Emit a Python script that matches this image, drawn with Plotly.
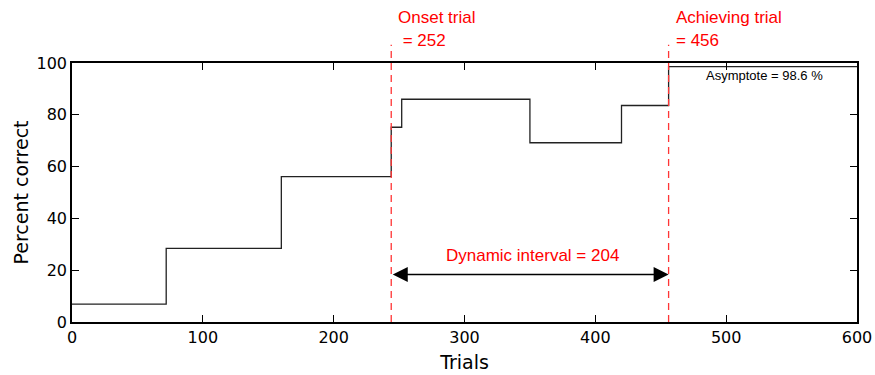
import plotly.graph_objects as go

# Step data: trial at which each level starts, percent correct
step_x = [0, 72, 160, 244, 252, 350, 420, 456, 600]
step_y = [6.9, 28.4, 56.1, 75.2, 86.0, 69.2, 83.6, 98.6, 98.6]

onset_x = 244
achieve_x = 456
arrow_y = 18.3

x_ticks = [0, 100, 200, 300, 400, 500, 600]
y_ticks = [0, 20, 40, 60, 80, 100]

RED = "#ff0000"
DASH_RED = "#ff3535"

fig = go.Figure()
fig.add_trace(go.Scatter(
    x=step_x, y=step_y, mode="lines", line=dict(color="#222222", width=1.3, shape="hv"),
    showlegend=False, hoverinfo="skip"))

for xv in [onset_x, achieve_x]:
    fig.add_shape(type="line", xref="x", yref="paper", x0=xv, x1=xv, y0=0, y1=1.07,
                  line=dict(color=DASH_RED, width=1.3, dash="7px,5px"), layer="above")

fig.add_annotation(x=achieve_x, y=arrow_y, ax=onset_x, ay=arrow_y, xref="x", yref="y",
                   axref="x", ayref="y", text="", showarrow=True, arrowside="end+start",
                   arrowhead=2, arrowsize=2, arrowwidth=1.5, arrowcolor="black",
                   standoff=0, startstandoff=0)

afont = dict(family="Liberation Sans, Arial", size=17, color=RED)
fig.add_annotation(x=352, y=25.5, xref="x", yref="y", text="Dynamic interval = 204",
                   showarrow=False, font=afont, xanchor="center", yanchor="middle")
fig.add_annotation(x=onset_x + 4, y=1.175, xref="x", yref="paper", text="Onset trial",
                   showarrow=False, font=afont, xanchor="left", yanchor="middle")
fig.add_annotation(x=onset_x + 4, y=1.085, xref="x", yref="paper", text=" = 252",
                   showarrow=False, font=afont, xanchor="left", yanchor="middle")
fig.add_annotation(x=achieve_x + 4, y=1.175, xref="x", yref="paper", text="Achieving trial",
                   showarrow=False, font=afont, xanchor="left", yanchor="middle")
fig.add_annotation(x=achieve_x + 4, y=1.085, xref="x", yref="paper", text="= 456",
                   showarrow=False, font=afont, xanchor="left", yanchor="middle")
fig.add_annotation(x=529, y=95.3, xref="x", yref="y", text="Asymptote = 98.6 %",
                   showarrow=False, font=dict(family="Liberation Sans, Arial", size=13, color="black"),
                   xanchor="center", yanchor="middle")

axis_common = dict(showline=True, linecolor="black", linewidth=1.5, mirror="ticks",
                   ticks="inside", ticklen=7, tickwidth=1, tickcolor="black",
                   showgrid=False, zeroline=False, automargin=False,
                   tickfont=dict(family="DejaVu Sans", size=16, color="black"))

fig.update_xaxes(range=[0, 600], tickvals=x_ticks, ticktext=[str(v) for v in x_ticks],
                 title=dict(text="Trials", font=dict(family="DejaVu Sans", size=19, color="black"),
                            standoff=10), **axis_common)
fig.update_yaxes(range=[0, 100], tickvals=y_ticks, ticktext=[str(v) for v in y_ticks],
                 title=dict(text="Percent correct", font=dict(family="DejaVu Sans", size=19, color="black"),
                            standoff=3), **axis_common)

fig.update_layout(width=875, height=375, margin=dict(l=72, r=18, t=63, b=53, autoexpand=False),
                  plot_bgcolor="white", paper_bgcolor="white")

fig.write_html("out.html")
